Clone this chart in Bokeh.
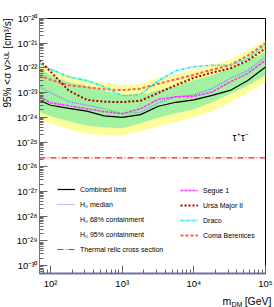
from bokeh.plotting import figure
from bokeh.models import (ColumnDataSource, Range1d, FixedTicker, CustomJSTickFormatter,
                          Legend, LegendItem, Label, Title)
from bokeh.embed import file_html
from bokeh.resources import INLINE

# ---- data ----
mass = [70, 100, 180, 320, 560, 1000, 1800, 3200, 5600, 10000, 18000, 32000, 56000, 100000]

combined = [4.90e-24, 3.09e-24, 2.29e-24, 1.78e-24, 1.15e-24, 1.00e-24, 1.29e-24,
            2.82e-24, 4.07e-24, 5.13e-24, 7.76e-24, 1.23e-23, 3.02e-23, 1.10e-22]
h0_median = [1.70e-23, 1.00e-23, 4.27e-24, 3.09e-24, 2.24e-24, 1.41e-24, 1.62e-24,
             3.89e-24, 6.76e-24, 8.13e-24, 1.48e-23, 3.72e-23, 7.76e-23, 2.82e-22]
band68_hi = [9.77e-23, 5.01e-23, 2.63e-23, 1.82e-23, 1.20e-23, 8.13e-24, 7.76e-24,
             1.26e-23, 1.91e-23, 3.16e-23, 5.01e-23, 9.77e-23, 1.86e-22, 4.47e-22]
band68_lo = [1.66e-24, 1.10e-24, 6.92e-25, 4.57e-25, 3.98e-25, 3.63e-25, 5.75e-25,
             9.55e-25, 1.48e-24, 2.14e-24, 4.07e-24, 8.71e-24, 1.91e-23, 5.01e-23]
band95_hi = [1.51e-22, 8.91e-23, 4.57e-23, 3.31e-23, 2.51e-23, 2.00e-23, 2.19e-23,
             3.98e-23, 5.50e-23, 8.51e-23, 1.29e-22, 2.14e-22, 4.79e-22, 1.32e-21]
band95_lo = [8.91e-25, 5.75e-25, 3.31e-25, 2.19e-25, 1.91e-25, 1.82e-25, 2.75e-25,
             4.37e-25, 6.31e-25, 1.00e-24, 1.78e-24, 4.07e-24, 9.55e-24, 2.69e-23]
segue1 = [6.76e-24, 3.89e-24, 2.95e-24, 2.24e-24, 1.70e-24, 1.41e-24, 2.24e-24,
          5.37e-24, 6.76e-24, 7.08e-24, 1.07e-23, 2.69e-23, 5.89e-23, 2.04e-22]
ursa_major2 = [2.04e-22, 7.08e-23, 1.20e-23, 5.13e-24, 4.27e-24, 4.17e-24, 4.68e-24,
               9.77e-24, 2.00e-23, 3.98e-23, 6.46e-23, 9.55e-23, 1.95e-22, 6.17e-22]
draco = [1.51e-22, 8.91e-23, 4.37e-23, 3.09e-23, 1.74e-23, 7.41e-24, 8.51e-24,
         3.02e-23, 7.76e-23, 1.12e-22, 1.29e-22, 1.29e-22, 2.34e-22, 8.71e-22]
coma_berenices = [5.01e-23, 3.31e-23, 2.00e-23, 1.66e-23, 1.38e-23, 1.26e-23, 1.45e-23,
                  2.29e-23, 3.47e-23, 5.25e-23, 8.51e-23, 1.29e-22, 3.09e-22, 1.00e-21]
thermal_relic = [2.3e-26] * len(mass)

x_major = [1e2, 1e3, 1e4, 1e5]
x_minor = [m * 10.0 ** d for d in range(1, 5) for m in range(2, 10) if 70 <= m * 10.0 ** d <= 1e5]
y_major = [10.0 ** e for e in range(-30, -19)]
y_minor = [m * 10.0 ** d for d in range(-31, -20) for m in range(2, 10) if m * 10.0 ** d >= 4.8e-31]

FONT = "Liberation Sans"
W, H = 274, 307
FRAME_TOP = 18

src = ColumnDataSource(dict(m=mass, comb=combined, med=h0_median, g_hi=band68_hi, g_lo=band68_lo,
                            y_hi=band95_hi, y_lo=band95_lo, seg=segue1, uma=ursa_major2,
                            dra=draco, coma=coma_berenices, th=thermal_relic))

p = figure(width=W, height=H, x_axis_type="log", y_axis_type="log",
           x_range=Range1d(70, 1e5), y_range=Range1d(4.8e-31, 1e-20),
           output_backend="svg", toolbar_location=None,
           min_border_left=35, min_border_right=9, min_border_top=FRAME_TOP, min_border_bottom=34)
p.grid.visible = False
p.outline_line_color = "black"
p.outline_line_width = 1
p.background_fill_color = "white"
p.border_fill_color = "white"

# bands
p.varea(x="m", y1="y_lo", y2="y_hi", source=src, fill_color="#fdfd9b")
p.varea(x="m", y1="g_lo", y2="g_hi", source=src, fill_color="#a2f2a2")

# lines
r_th = p.line("m", "th", source=src, line_color="#ff1a1a", line_width=1.2, line_dash="6 2 1 2")
r_med = p.line("m", "med", source=src, line_color="#7b7bff", line_width=1.2, line_dash="1 1")
r_coma = p.line("m", "coma", source=src, line_color="#ff5a5a", line_width=2, line_dash="3 2")
r_dra = p.line("m", "dra", source=src, line_color="#10e8ff", line_width=1.6, line_dash="3 1 1 1")
r_uma = p.line("m", "uma", source=src, line_color="#b00000", line_width=2, line_dash="2 2")
r_seg = p.line("m", "seg", source=src, line_color="#ff33ff", line_width=1.5, line_dash="3 1")
r_comb = p.line("m", "comb", source=src, line_color="black", line_width=1.2)

# legend-only boxes
empty = ColumnDataSource(dict(l=[], r=[], t=[], b=[]))
r_g68 = p.quad(left="l", right="r", top="t", bottom="b", source=empty,
               fill_color="#a2f2a2", line_color="#3f6a3f", line_width=1)
r_y95 = p.quad(left="l", right="r", top="t", bottom="b", source=empty,
               fill_color="#fdfd9b", line_color="#6e6e3a", line_width=1)

# axes
sup_js = """
const sup = {"-":"\u207b","0":"\u2070","1":"\u00b9","2":"\u00b2","3":"\u00b3","4":"\u2074",
             "5":"\u2075","6":"\u2076","7":"\u2077","8":"\u2078","9":"\u2079"};
const e = Math.round(Math.log10(tick));
return "10" + String(e).split("").map(c => sup[c]).join("");
"""
for ax, maj, mnr in ((p.xaxis[0], x_major, x_minor), (p.yaxis[0], y_major, y_minor)):
    ax.ticker = FixedTicker(ticks=maj, minor_ticks=mnr)
    ax.formatter = CustomJSTickFormatter(code=sup_js)
    ax.major_tick_in = 8
    ax.major_tick_out = 0
    ax.minor_tick_in = 4
    ax.minor_tick_out = 0
    ax.major_tick_line_color = "#666666"
    ax.minor_tick_line_color = "#666666"
    ax.major_label_text_font = FONT
    ax.major_label_text_font_size = "9.5px"
    ax.major_label_text_color = "black"
    ax.axis_label = None

p.xaxis.major_label_standoff = 4
p.yaxis.major_label_standoff = 2
p.xaxis.axis_line_color = "#7070b0"
p.xaxis.axis_line_width = 2
p.yaxis.axis_line_color = "#777777"

# y axis title: side-panel title, top aligned
p.add_layout(Title(text="95% <\u03c3 v>\u1d41\u1d38 [cm\u00b3/s]", align="right",
                   vertical_align="middle", standoff=0, offset=0,
                   text_font=FONT, text_font_size="10px", text_font_style="normal",
                   text_color="black"), "left")

# x axis title pieces (side-panel labels are not clipped to the frame)
p.add_layout(Label(x=218 - 35, y=FRAME_TOP - 300, x_units="screen", y_units="screen",
                   text="m\u2003\u00a0[GeV]", text_align="left", text_baseline="middle",
                   text_font=FONT, text_font_size="10.5px", text_color="black"), "above")
p.add_layout(Label(x=227 - 35, y=-6, x_units="screen", y_units="screen", text="DM",
                   text_align="left", text_baseline="middle",
                   text_font=FONT, text_font_size="7px", text_color="black"), "below")

# channel label
p.add_layout(Label(x=45000, y=1.6e-25, text="\u03c4\u207a\u03c4\u207b",
                   text_align="center", text_baseline="middle",
                   text_font=FONT, text_font_size="10.5px", text_color="black"))

def make_legend(items, loc):
    lg = Legend(items=items, location=loc, orientation="vertical",
                label_text_font=FONT, label_text_font_size="7px", label_text_color="black",
                label_height=10, glyph_height=10, glyph_width=18, label_standoff=5,
                spacing=5, padding=0, margin=0,
                border_line_alpha=0, background_fill_alpha=0)
    p.add_layout(lg)

make_legend([
    LegendItem(label="Combined limit", renderers=[r_comb]),
    LegendItem(label="H\u2080 median", renderers=[r_med]),
    LegendItem(label="H\u2080 68% containment", renderers=[r_g68]),
    LegendItem(label="H\u2080 95% containment", renderers=[r_y95]),
    LegendItem(label="Thermal relic cross section", renderers=[r_th]),
], (18, 19))
make_legend([
    LegendItem(label="Segue 1", renderers=[r_seg]),
    LegendItem(label="Ursa Major II", renderers=[r_uma]),
    LegendItem(label="Draco", renderers=[r_dra]),
    LegendItem(label="Coma Berenices", renderers=[r_coma]),
], (141, 33))

open("out.html", "w").write(file_html(p, INLINE))
